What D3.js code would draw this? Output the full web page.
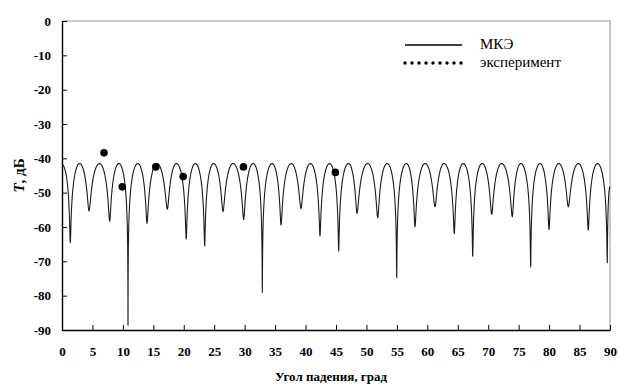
<!DOCTYPE html>
<html>
<head>
<meta charset="utf-8">
<script src="https://cdn.jsdelivr.net/npm/d3@7"></script>
<style>
  body { margin: 0; background: #fff; }
  svg { display: block; }
</style>
</head>
<body>
<div id="chart"></div>
<script>
// МКЭ curve: minima, maxima and the two ends
const startPoint = [0, -41.8];
const endPoint = [90, -48.3];
const dipAngle = [1.36, 4.43, 7.83, 10.84, 13.96, 17.3, 20.4, 23.43, 26.44, 29.84,
  32.9, 35.97, 39.25, 42.37, 45.44, 48.45, 51.85, 54.97, 57.97, 61.26,
  64.43, 67.45, 70.57, 73.95, 76.97, 79.98, 83.15, 86.43, 89.55];
const dipT = [-64.6, -55.3, -58.3, -88.6, -58.9, -54.8, -63.5, -65.5, -55.5, -57.8,
  -79.0, -59.4, -54.6, -62.6, -67.0, -56.0, -57.3, -74.7, -59.9, -54.1,
  -61.9, -68.5, -56.3, -57.0, -71.6, -60.7, -54.1, -60.9, -70.4];
const peakAngle = [2.9, 6.15, 9.35, 12.45, 15.6, 18.8, 21.9, 24.9, 28.1, 31.4,
  34.5, 37.65, 40.8, 43.95, 47.05, 50.2, 53.4, 56.55, 59.65, 62.75,
  65.9, 69.0, 72.2, 75.35, 78.5, 81.6, 84.8, 87.95];
const peakT = [-41.5, -41.5, -41.5, -41.5, -41.5, -41.5, -41.5, -41.5, -41.5, -41.5,
  -41.5, -41.5, -41.5, -41.5, -41.5, -41.5, -41.5, -41.5, -41.5, -41.5,
  -41.5, -41.5, -41.5, -41.5, -41.5, -41.5, -41.5, -41.5];

// эксперимент
const expAngle = [6.9, 9.9, 15.4, 19.9, 29.8, 44.9];
const expT = [-38.4, -48.3, -42.5, -45.3, -42.5, -44.1];

const xTicks = [0, 5, 10, 15, 20, 25, 30, 35, 40, 45, 50, 55, 60, 65, 70, 75, 80, 85, 90];
const yTicks = [0, -10, -20, -30, -40, -50, -60, -70, -80, -90];

const width = 618, height = 385;
const margin = { top: 21, right: 8, bottom: 55, left: 62 };
const serif = '"Liberation Serif", "Times New Roman", serif';

const svg = d3.select('#chart').append('svg')
  .attr('width', width)
  .attr('height', height);

const x = d3.scaleLinear().domain([0, 90]).range([margin.left, width - margin.right]);
const y = d3.scaleLinear().domain([-90, 0]).range([height - margin.bottom, margin.top]);
const dbPx = y(-1) - y(0);

// interference-lobe shape between a maximum P and a minimum D (pixel coords):
// rounded top, narrow bottom, passing exactly through both points
const uSteps = [0, 0.1, 0.2, 0.3, 0.4, 0.5, 0.6, 0.68, 0.75, 0.8, 0.85, 0.88, 0.91,
  0.93, 0.95, 0.965, 0.975, 0.985, 0.992, 1];
function lobe(P, D) {
  const depth = (D[1] - P[1]) / dbPx;
  const r = Math.pow(10, -depth / 10);
  const eps = r / (1 - r);
  const s = D[0] > P[0] ? 1 : -1;
  const w = Math.abs(D[0] - P[0]);
  return uSteps.map(u => {
    const c = Math.cos(u * Math.PI / 2);
    const drop = 10 * Math.log10(1 + eps) - 10 * Math.log10(c * c + eps);
    return [P[0] + s * u * w, P[1] + drop * dbPx];
  });
}

function curveLobe(context) {
  let pts;
  return {
    areaStart() {}, areaEnd() {},
    lineStart() { pts = []; },
    point(px, py) { pts.push([+px, +py]); },
    lineEnd() {
      if (!pts.length) return;
      context.moveTo(pts[0][0], pts[0][1]);
      for (let i = 1; i < pts.length; i++) {
        const a = pts[i - 1], b = pts[i];
        const down = b[1] > a[1];
        let seg = down ? lobe(a, b) : lobe(b, a).reverse();
        seg.slice(1).forEach(p => context.lineTo(p[0], p[1]));
      }
    }
  };
}

const mke = [startPoint];
dipAngle.forEach((a, i) => {
  mke.push([a, dipT[i]]);
  if (i < peakAngle.length) mke.push([peakAngle[i], peakT[i]]);
});
mke.push(endPoint);

// grey frame top / right
svg.append('path')
  .attr('d', `M${x(0)},${y(0)}H${x(90)}V${y(-90)}`)
  .attr('fill', 'none')
  .attr('stroke', '#b8b8b8')
  .attr('stroke-width', 1.5);

const line = d3.line()
  .x(d => x(d[0]))
  .y(d => y(d[1]))
  .curve(curveLobe);

svg.append('path')
  .datum(mke)
  .attr('d', line)
  .attr('fill', 'none')
  .attr('stroke', '#1a1a1a')
  .attr('stroke-width', 1.1)
  .attr('stroke-linejoin', 'round');

svg.selectAll('.dot')
  .data(expAngle.map((a, i) => [a, expT[i]]))
  .enter().append('circle')
  .attr('class', 'dot')
  .attr('r', 3.8)
  .attr('cx', d => x(d[0]))
  .attr('cy', d => y(d[1]))
  .attr('fill', '#000');

// axes, ticks pointing inward
function styleAxis(g) {
  g.attr('font-family', serif).attr('font-size', 13).attr('font-weight', 'bold');
  g.selectAll('text')
    .style('font-family', serif)
    .style('font-size', '13px')
    .style('font-weight', 'bold')
    .attr('fill', '#000');
  g.selectAll('line').attr('stroke', '#000');
  g.select('.domain').attr('stroke', '#000').attr('stroke-width', 1.4);
}

svg.append('g')
  .attr('class', 'x axis')
  .attr('transform', `translate(0,${y(-90)})`)
  .call(d3.axisBottom(x).tickValues(xTicks).tickFormat(d => String(d))
    .tickSize(-5).tickSizeOuter(0).tickPadding(17))
  .call(styleAxis);

svg.append('g')
  .attr('class', 'y axis')
  .attr('transform', `translate(${x(0)},0)`)
  .call(d3.axisLeft(y).tickValues(yTicks).tickFormat(d => String(d))
    .tickSize(-5).tickSizeOuter(0).tickPadding(11))
  .call(styleAxis);

svg.append('text')
  .attr('x', 331)
  .attr('y', 381)
  .attr('text-anchor', 'middle')
  .style('font-family', serif)
  .style('font-size', '13px')
  .style('font-weight', 'bold')
  .text('Угол падения, град');

const yTitle = svg.append('text')
  .attr('transform', `translate(24,${(y(0) + y(-90)) / 2}) rotate(-90)`)
  .attr('text-anchor', 'middle')
  .style('font-family', serif)
  .style('font-size', '15px')
  .style('font-weight', 'bold');
yTitle.append('tspan').style('font-style', 'italic').text('T');
yTitle.append('tspan').text(', дБ');

// legend
const legend = svg.append('g');
legend.append('line')
  .attr('x1', 405).attr('x2', 462)
  .attr('y1', 45).attr('y2', 45)
  .attr('stroke', '#000')
  .attr('stroke-width', 1.5);
legend.selectAll('.ldot')
  .data(d3.range(9))
  .enter().append('circle')
  .attr('class', 'ldot')
  .attr('cx', i => 405 + i * 7)
  .attr('cy', 63)
  .attr('r', 1.7)
  .attr('fill', '#000');
legend.append('text')
  .attr('x', 480).attr('y', 48.5)
  .style('font-family', serif)
  .style('font-size', '15px')
  .text('МКЭ');
legend.append('text')
  .attr('x', 480).attr('y', 67)
  .style('font-family', serif)
  .style('font-size', '15px')
  .text('эксперимент');
</script>
</body>
</html>
